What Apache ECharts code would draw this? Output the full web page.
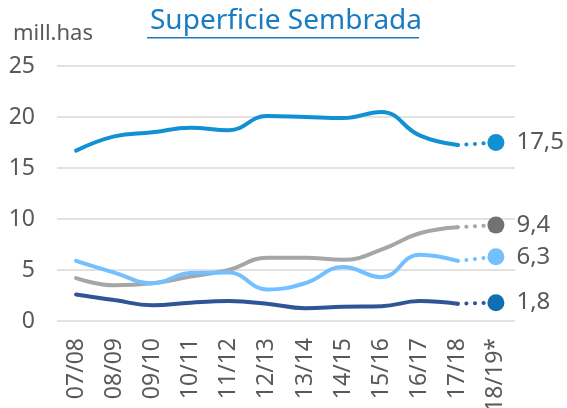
<!DOCTYPE html>
<html><head><meta charset="utf-8">
<script src="https://cdn.jsdelivr.net/npm/echarts@6/dist/echarts.min.js"></script>
<style>html,body{margin:0;padding:0;background:#fff}#c{width:567px;height:408px}</style>
</head><body><div id="c"></div>
<script>
const categories = ['07/08','08/09','09/10','10/11','11/12','12/13','13/14','14/15','15/16','16/17','17/18','18/19*'];
const serieTotal = [16.7,18.1,18.5,18.95,18.7,20.1,20.0,19.9,20.5,18.2,17.25,17.5];
const serieGris = [4.2,3.5,3.7,4.35,5.0,6.2,6.2,6.0,7.0,8.6,9.2,9.4];
const serieCeleste = [5.9,4.75,3.7,4.7,4.75,3.1,3.7,5.3,4.3,6.5,5.9,6.3];
const serieAzul = [2.6,2.05,1.55,1.8,1.95,1.7,1.25,1.4,1.45,1.95,1.7,1.8];
const yTicks = [0,5,10,15,20,25];

const FONT = 'Noto Sans';
const TXT = '#595959';
const defs = [
  {data: serieTotal, line: '#1190d3', dot: '#1190d3'},
  {data: serieGris, line: '#a6a6a6', dot: '#767171'},
  {data: serieCeleste, line: '#72c0ff', dot: '#72c0ff'},
  {data: serieAzul, line: '#2f5597', dot: '#0f6fb0'}
];
const series = [];
defs.forEach(d => {
  const n = d.data.length;
  series.push({
    type: 'line', smooth: 0.45, symbol: 'none',
    data: d.data.map((v, i) => i < n - 1 ? v : '-'),
    lineStyle: {color: d.line, width: 4, cap: 'round'},
    itemStyle: {color: d.line}, z: 2
  });
  series.push({
    type: 'line', symbol: 'circle', symbolSize: 17,
    data: d.data.map((v, i) => {
      if (i === n - 2) return {value: v, symbol: 'none'};
      if (i === n - 1) return {value: v, label: {show: true}};
      return '-';
    }),
    lineStyle: {color: d.line, width: 4, type: [0.1, 8.5], cap: 'round'},
    itemStyle: {color: d.dot},
    label: {show: false, position: 'right', distance: 12, color: TXT, fontSize: 24, fontFamily: FONT,
      formatter: p => String(p.value).replace('.', ',')},
    z: 3
  });
});

const chart = echarts.init(document.getElementById('c'));
chart.setOption({
  animation: false,
  textStyle: {fontFamily: FONT},
  title: [
    {text: 'Superficie Sembrada', left: 145, top: 2,
      textStyle: {color: '#1a7cc0', fontSize: 28, fontWeight: 'normal', fontFamily: FONT}},
    {text: 'mill.has', left: 8, top: 18,
      textStyle: {color: TXT, fontSize: 22, fontWeight: 'normal', fontFamily: FONT}}
  ],
  graphic: [{type: 'rect', shape: {x: 147, y: 37, width: 272, height: 1.5}, style: {fill: '#1a7cc0'}}],
  grid: {left: 57, right: 52, top: 66, bottom: 87, containLabel: false, outerBoundsMode: 'none'},
  xAxis: {
    type: 'category', data: categories, boundaryGap: true,
    axisLine: {show: false}, axisTick: {show: false},
    axisLabel: {rotate: 90, color: TXT, fontSize: 23, margin: 17, fontFamily: FONT}
  },
  yAxis: {
    type: 'value', min: yTicks[0], max: yTicks[yTicks.length - 1], interval: 5,
    axisLine: {show: false}, axisTick: {show: false},
    splitLine: {lineStyle: {color: '#d9d9d9', width: 1.5}},
    axisLabel: {color: TXT, fontSize: 23, margin: 22, fontFamily: FONT}
  },
  series: series
});
</script></body></html>
